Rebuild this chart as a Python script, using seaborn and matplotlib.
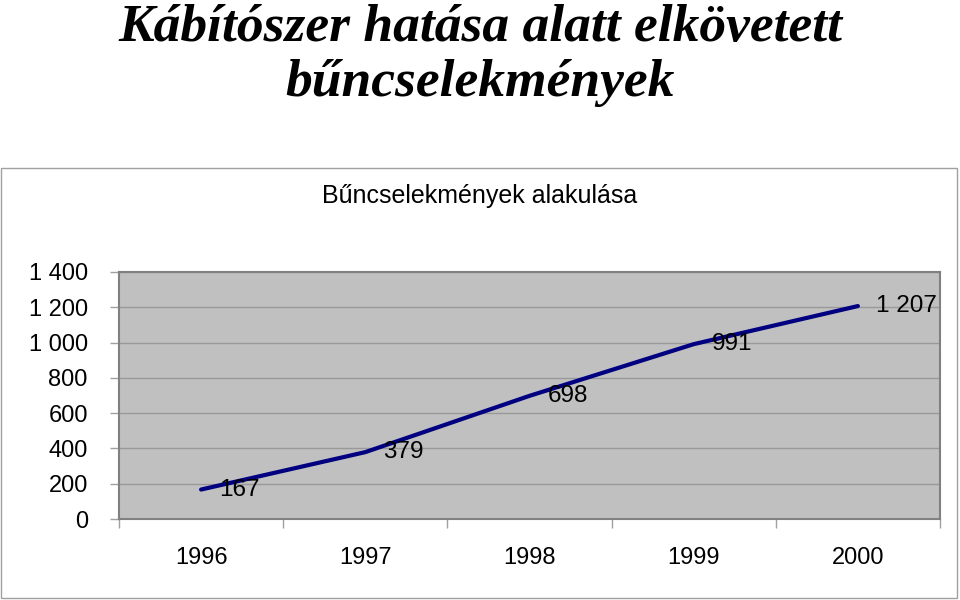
import numpy as np
import pandas as pd
import seaborn as sns
import matplotlib.pyplot as plt
from matplotlib.patches import Rectangle

# adatok
evek = ["1996", "1997", "1998", "1999", "2000"]
ertekek = [167, 379, 698, 991, 1207]
y_tickek = [0, 200, 400, 600, 800, 1000, 1200, 1400]


def ezres(v):
    s = f"{v:,}".replace(",", " ")
    return s


sns.set_style("white")
plt.rcParams["font.family"] = ["Liberation Sans", "DejaVu Sans"]
plt.rcParams["text.color"] = "black"
plt.rcParams["xtick.color"] = "black"
plt.rcParams["ytick.color"] = "black"

fig = plt.figure(figsize=(9.6, 6.0), dpi=100)

# diagram keret
fig.patches.append(Rectangle((1 / 960, 1 - 598 / 600), 956 / 960, 430 / 600,
                             transform=fig.transFigure, fill=False,
                             edgecolor="#a0a0a0", linewidth=1.0))

ax = fig.add_axes([119 / 960, 1 - 519 / 600, 821 / 960, 247 / 600])
ax.set_facecolor("#c0c0c0")

df = pd.DataFrame({"x": np.arange(len(evek)), "ertek": ertekek})
sns.lineplot(data=df, x="x", y="ertek", ax=ax, color="#000080", linewidth=3.0,
             solid_capstyle="round", zorder=3)

for i, v in enumerate(ertekek):
    ax.annotate(ezres(v), (i, v), xytext=(13, 0), textcoords="offset points",
                ha="left", va="center", fontsize=17.5, color="black", zorder=4)

ax.set_xlim(-0.5, len(evek) - 0.5)
ax.set_ylim(0, 1400)
ax.set_yticks(y_tickek)
ax.set_yticklabels([ezres(t) for t in y_tickek], fontsize=17)
ax.set_xticks(range(len(evek)))
ax.set_xticklabels(evek, fontsize=17)
ax.set_xticks(np.arange(-0.5, len(evek)), minor=True)
ax.tick_params(axis="x", which="major", length=0, pad=20)
ax.tick_params(axis="x", which="minor", length=6.5, width=1, color="#a0a0a0",
               direction="out", bottom=True)
ax.tick_params(axis="y", length=6.5, width=1, color="#a0a0a0", pad=16,
               direction="out", left=True)
ax.grid(axis="y", color="#999999", linewidth=1.0)
ax.set_axisbelow(True)
for s in ax.spines.values():
    s.set_color("#808080")
    s.set_linewidth(1.5)
ax.set_xlabel("")
ax.set_ylabel("")

cim_betu = ["Liberation Serif", "DejaVu Serif"]
fig.text(0.5, 1 - 41 / 600, "Kábítószer hatása alatt elkövetett",
         ha="center", va="baseline", fontsize=38.5, fontweight="bold",
         fontstyle="italic", family=cim_betu, color="black")
fig.text(0.5, 1 - 96 / 600, "bűncselekmények",
         ha="center", va="baseline", fontsize=38.5, fontweight="bold",
         fontstyle="italic", family=cim_betu, color="black")
fig.text(480 / 960, 1 - 203 / 600, "Bűncselekmények alakulása",
         ha="center", va="baseline", fontsize=18, color="black")

fig.savefig("out.png", dpi=100)
